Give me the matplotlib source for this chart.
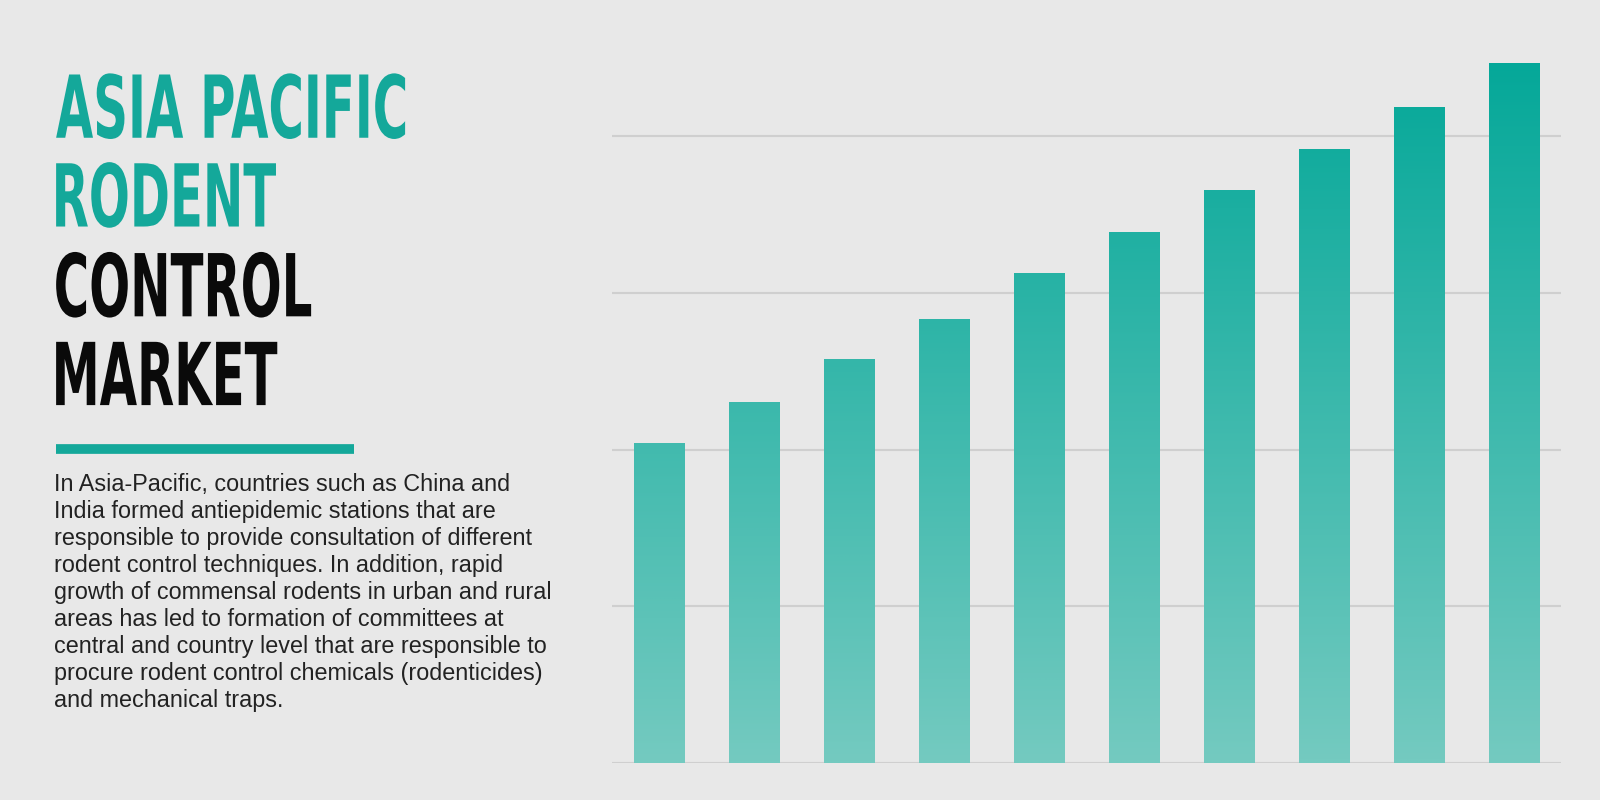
import numpy as np
import matplotlib.pyplot as plt
from matplotlib.colors import LinearSegmentedColormap
from matplotlib.textpath import TextPath
from matplotlib.patches import PathPatch
from matplotlib.font_manager import FontProperties
from matplotlib.transforms import Affine2D

categories = [str(i) for i in range(1, 11)]
values = [2.04, 2.30, 2.57, 2.83, 3.12, 3.38, 3.65, 3.91, 4.18, 4.46]

W, H = 1568, 784
bg = '#E8E8E8'
fig = plt.figure(figsize=(16, 8), dpi=100, facecolor=bg)

ax = fig.add_axes([600/W, 1-748/H, 930/W, (748-41)/H])
ax.set_facecolor(bg)
for s in ax.spines.values():
    s.set_visible(False)
ax.set_xticks([]); ax.set_yticks([1, 2, 3, 4]); ax.tick_params(left=False, labelleft=False)
for y in [0, 1, 2, 3, 4]:
    ax.axhline(y, color='#CFCFCF', lw=1.5, zorder=0)

cmap = LinearSegmentedColormap.from_list('g', ['#74CAC0', '#05A899'])
grad = np.linspace(0, 1, 256).reshape(-1, 1)
x = np.arange(len(values))
bw = 0.53
for xi, v in zip(x, values):
    ax.imshow(grad * (v / max(values)), extent=[xi-bw/2, xi+bw/2, 0, v], origin='lower',
              cmap=cmap, vmin=0, vmax=1, aspect='auto', zorder=2)
ax.set_xlim(-0.49, 9.49); ax.set_ylim(0, 4.6)

# Title drawn as condensed glyph paths in a pixel-coordinate overlay
tax = fig.add_axes([0, 0, 1, 1], facecolor='none')
tax.set_xlim(0, W); tax.set_ylim(H, 0); tax.axis('off')
fp = FontProperties(family='DejaVu Sans', weight='bold')
title = [('ASIA PACIFIC', '#14A89A'), ('RODENT', '#14A89A'), ('CONTROL', '#0A0A0A'), ('MARKET', '#0A0A0A')]
ys = [135, 222, 310, 397]
ref = TextPath((0, 0), 'ASIA PACIFIC', size=100, prop=fp)
ext = ref.get_extents()
sx = 342 / ext.width
cap = TextPath((0, 0), 'H', size=100, prop=fp).get_extents().height
sy = 62 / cap
for (t, c), y in zip(title, ys):
    tp = TextPath((0, 0), t, size=100, prop=fp)
    e = tp.get_extents()
    tr = Affine2D().translate(-e.x0, 0).scale(sx, -sy).translate(55, y)
    tax.add_patch(PathPatch(tr.transform_path(tp), color=c, lw=0))

tax.plot([55, 347], [440, 440], color='#14A89A', lw=7, solid_capstyle='butt')

para = ("In Asia-Pacific, countries such as China and\n"
        "India formed antiepidemic stations that are\n"
        "responsible to provide consultation of different\n"
        "rodent control techniques. In addition, rapid\n"
        "growth of commensal rodents in urban and rural\n"
        "areas has led to formation of committees at\n"
        "central and country level that are responsible to\n"
        "procure rodent control chemicals (rodenticides)\n"
        "and mechanical traps.")
fig.text(53/W, 1-464/H, para, color='#222222', fontsize=16.8, family='Liberation Sans',
         va='top', ha='left', linespacing=1.22)

fig.savefig('out.png', dpi=100, facecolor=bg)
